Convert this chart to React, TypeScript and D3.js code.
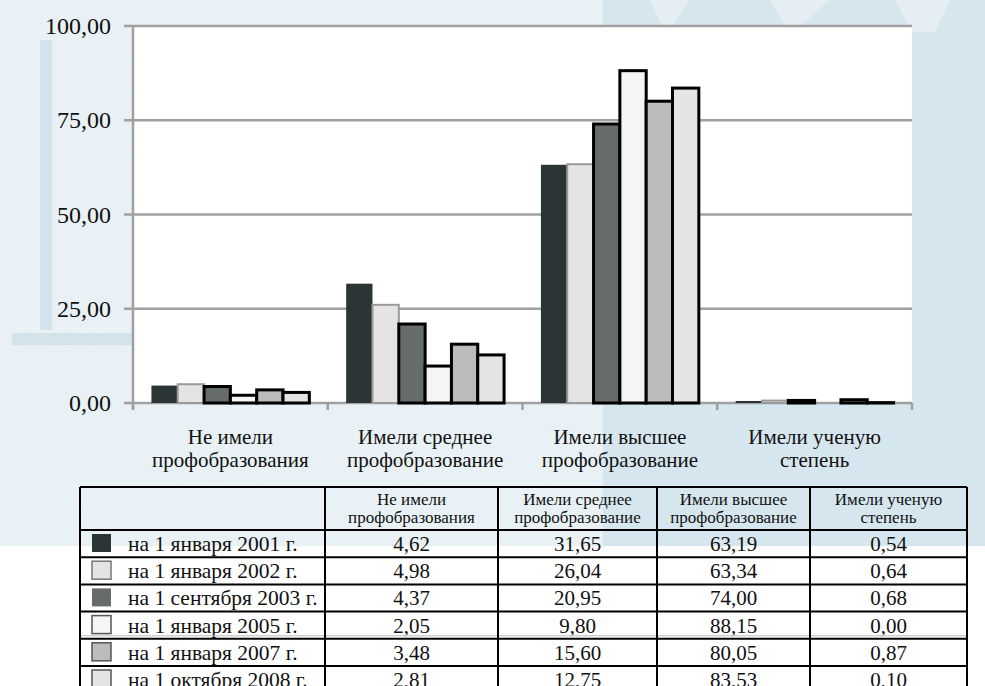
import React from "react";
import * as d3 from "d3";

const categories = [
  "Не имели\nпрофобразования",
  "Имели среднее\nпрофобразование",
  "Имели высшее\nпрофобразование",
  "Имели ученую\nстепень",
];
const seriesNames = [
  "на 1 января 2001 г.",
  "на 1 января 2002 г.",
  "на 1 сентября 2003 г.",
  "на 1 января 2005 г.",
  "на 1 января 2007 г.",
  "на 1 октября 2008 г.",
];
const values2001 = [4.62, 31.65, 63.19, 0.54];
const values2002 = [4.98, 26.04, 63.34, 0.64];
const values2003 = [4.37, 20.95, 74.0, 0.68];
const values2005 = [2.05, 9.8, 88.15, 0.0];
const values2007 = [3.48, 15.6, 80.05, 0.87];
const values2008 = [2.81, 12.75, 83.53, 0.1];
const seriesValues = [values2001, values2002, values2003, values2005, values2007, values2008];
const yTicks = [0, 25, 50, 75, 100];

const fills = ["#2b3536", "#e4e4e4", "#666b6b", "#f4f5f4", "#bcbcbc", "#e4e4e4"];
const strokes = ["none", "#9a9a9a", "#000", "#000", "#000", "#000"];
const strokeW = [0, 2, 3, 3, 3, 3];
const swatchStroke = ["none", "#777", "none", "#555", "#555", "#555"];

const FONT = '"Liberation Serif", "Times New Roman", Times, serif';
const fmt = (v: number) => d3.format(".2f")(v).replace(".", ",");

export default function App() {
  const W = 985, H = 686;
  const plot = { left: 133, right: 912, top: 26, bottom: 403 };
  const y = d3.scaleLinear().domain([0, 100]).range([plot.bottom, plot.top]);
  const x0 = d3.scaleBand<number>().domain(d3.range(categories.length)).range([plot.left, plot.right]).padding(0);
  const x1 = d3.scaleBand<number>().domain(d3.range(seriesNames.length)).range([0, x0.bandwidth()]).paddingInner(0).paddingOuter(0.7);

  const colX = [80, 325, 498, 657, 810, 967];
  const tTop = 487, headBottom = 530, rowH = 27.2;
  const rowY = (i: number) => headBottom + i * rowH;
  const ts = { fontFamily: FONT };

  return (
    <svg width={W} height={H} style={{ position: "absolute", left: 0, top: 0, display: "block", fontFamily: FONT }}>
      <defs>
        <filter id="speck" x="0" y="0" width="100%" height="100%">
          <feTurbulence type="fractalNoise" baseFrequency="0.35" numOctaves="2" seed="3" result="n" />
          <feColorMatrix in="n" type="matrix" values="0 0 0 0 0.80  0 0 0 0 0.88  0 0 0 0 0.92  0 0 0 1.6 -0.7" />
        </filter>
      </defs>
      <rect x={0} y={0} width={W} height={H} fill="#fff" />
      <rect x={0} y={0} width={W} height={546} fill="#e9f1f5" />
      <rect x={0} y={0} width={603} height={546} filter="url(#speck)" opacity={0.9} />
      <rect x={603} y={0} width={W - 603} height={546} fill="#d6e6ee" />
      <polygon points="650,0 690,0 672,26 662,26" fill="#e4eef3" />
      <polygon points="770,0 830,0 800,26 785,26" fill="#e4eef3" />
      <polygon points="895,0 950,0 935,32 912,32" fill="#e4eef3" />
      <rect x={40} y={40} width={12} height={290} fill="#d3e3eb" />
      <rect x={12} y={333} width={120} height={12} fill="#d3e3eb" />

      <rect x={plot.left} y={plot.top} width={plot.right - plot.left} height={plot.bottom - plot.top} fill="#fff" />
      {yTicks.map((t) => (
        <g key={t}>
          <line x1={124} x2={plot.right} y1={y(t)} y2={y(t)} stroke="#a0a0a0" strokeWidth={2.5} />
          <text x={111} y={y(t) + 8} textAnchor="end" fontSize={24} fill="#111" style={ts}>{fmt(t)}</text>
        </g>
      ))}
      <line x1={plot.left} x2={plot.left} y1={plot.top} y2={plot.bottom + 6} stroke="#a0a0a0" strokeWidth={2.5} />
      {d3.range(categories.length + 1).map((i) => {
        const xx = i < categories.length ? (x0(i) as number) : plot.right;
        return <line key={i} x1={xx} x2={xx} y1={plot.bottom} y2={plot.bottom + 7} stroke="#a0a0a0" strokeWidth={2.5} />;
      })}

      {seriesValues.map((vals, s) => (
        <g key={s}>
          {vals.map((v, c) => {
            const bx = (x0(c) as number) + (x1(s) as number);
            const by = y(v);
            return (
              <rect key={c} x={bx} y={by} width={x1.bandwidth()} height={plot.bottom - by}
                fill={fills[s]} stroke={strokes[s]} strokeWidth={strokeW[s]} />
            );
          })}
        </g>
      ))}

      {categories.map((c, i) => {
        const cx = (x0(i) as number) + x0.bandwidth() / 2;
        return (
          <text key={i} x={cx} y={444} textAnchor="middle" fontSize={21} fill="#111" style={ts}>
            {c.split("\n").map((ln, k) => (
              <tspan key={k} x={cx} dy={k === 0 ? 0 : 23}>{ln}</tspan>
            ))}
          </text>
        );
      })}

      <g>
        {categories.map((c, i) => {
          const cx = (colX[i + 1] + colX[i + 2]) / 2;
          const lines = c.split("\n");
          return (
            <g key={i}>
              {lines.map((ln, k) => (
                <text key={k} x={cx} y={505 + k * 18} textAnchor="middle" fontSize={17} fill="#111" style={ts}>{ln}</text>
              ))}
            </g>
          );
        })}
        {seriesNames.map((name, s) => (
          <g key={s}>
            <rect x={92} y={rowY(s) + 4} width={19} height={18} fill={fills[s]}
              stroke={swatchStroke[s]} strokeWidth={1.5} />
            <text x={128} y={rowY(s) + 21} fontSize={21.5} fill="#111" style={ts}>{name}</text>
            {seriesValues[s].map((v, c) => (
              <text key={c} x={(colX[c + 1] + colX[c + 2]) / 2} y={rowY(s) + 21} textAnchor="middle" fontSize={21} fill="#111" style={ts}>
                {fmt(v)}
              </text>
            ))}
          </g>
        ))}
        <line x1={colX[0]} x2={colX[5]} y1={rowY(4) - 3} y2={rowY(4) - 3} stroke="#bbb" strokeWidth={1} />
        {d3.range(8).map((i) => {
          const yy = i === 0 ? tTop : rowY(i - 1);
          return <line key={"h" + i} x1={colX[0]} x2={colX[5]} y1={yy} y2={yy} stroke="#000" strokeWidth={2} />;
        })}
        {colX.map((cx, i) => (
          <line key={"v" + i} x1={cx} x2={cx} y1={tTop} y2={H + 5} stroke="#000" strokeWidth={2} />
        ))}
      </g>
    </svg>
  );
}
